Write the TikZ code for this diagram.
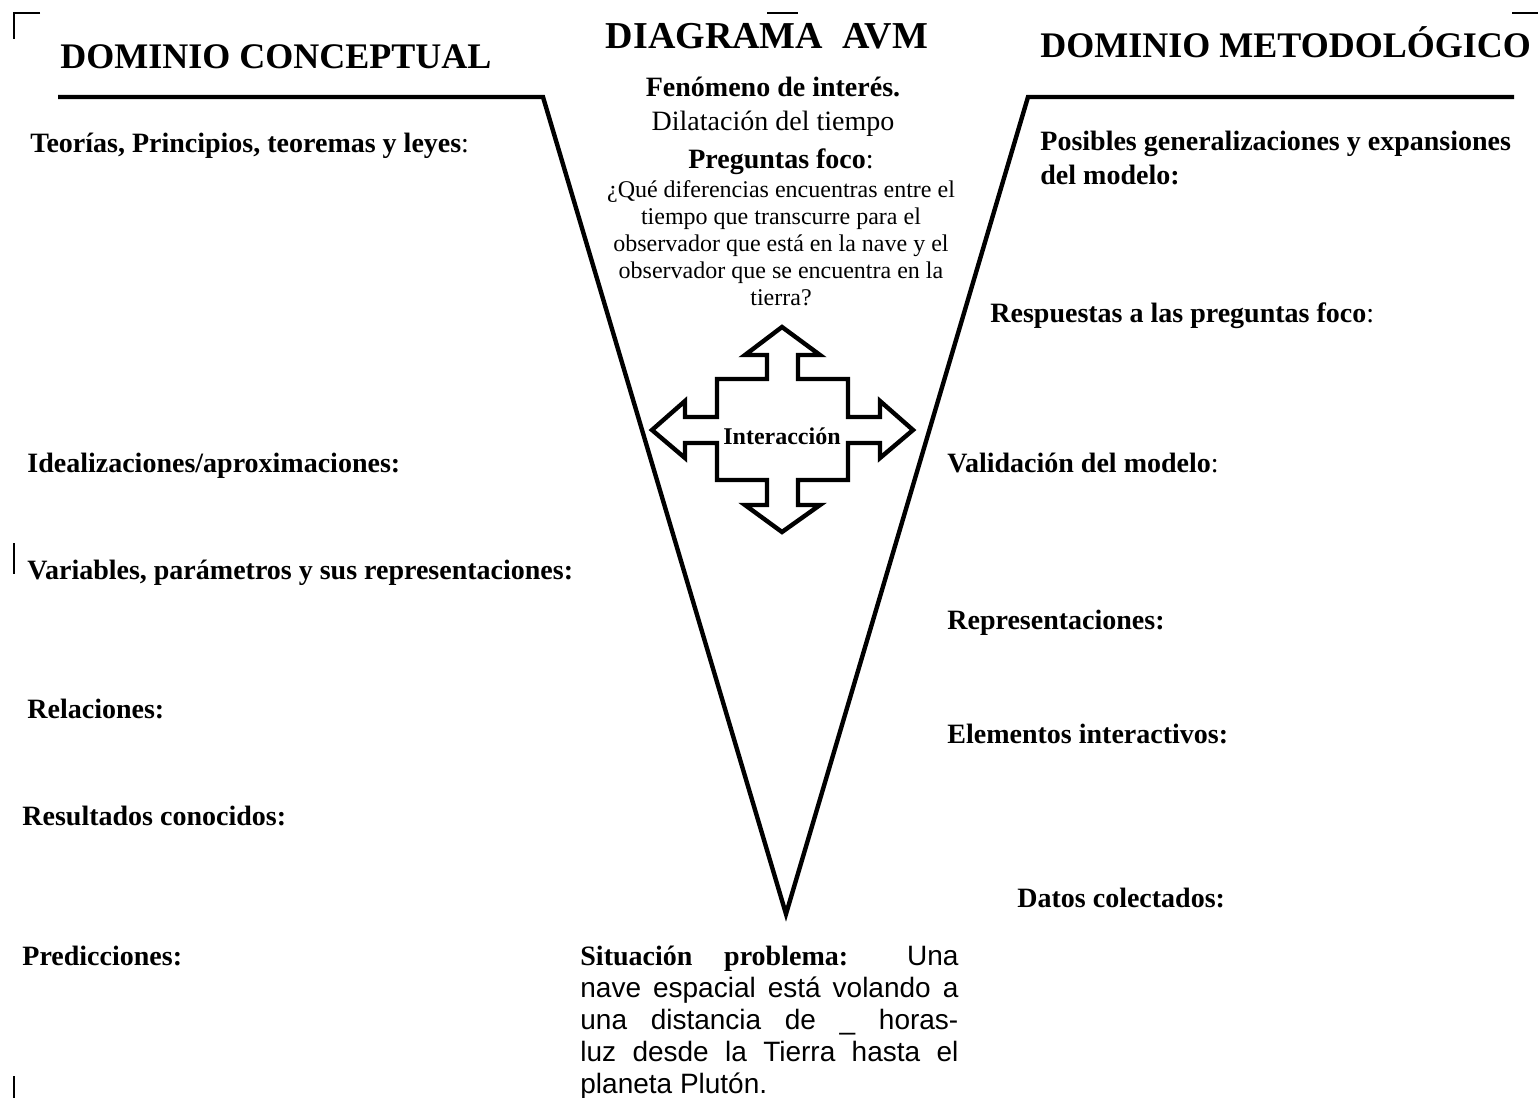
\documentclass[tikz,border=0pt]{standalone}
\usepackage{fontspec}
\setmainfont{Liberation Serif}
\newfontfamily\arialfont{Liberation Sans}
\tikzset{
  vline/.style={draw=black,line width=2.2pt,line join=miter},
  crossarrow/.style={draw=black,fill=white,line width=2.2pt,line join=miter},
  scanmark/.style={draw=black,line width=0.8pt},
  avmhead/.style={font=\fontsize{18}{21}\selectfont\bfseries,inner sep=0pt},
  avmitem/.style={font=\fontsize{14}{17}\selectfont\bfseries,inner sep=0pt,anchor=base west},
  avmcenter/.style={font=\fontsize{14}{17}\selectfont,inner sep=0pt,anchor=base},
  avmquestion/.style={font=\fontsize{12}{13.5}\selectfont,inner sep=0pt,align=center},
  avmpara/.style={font=\fontsize{14}{16}\selectfont,inner sep=0pt,text width=189pt,align=justify},
}

\begin{document}
\begin{tikzpicture}[x=0.5pt,y=-0.5pt]
  \useasboundingbox (0,0) rectangle (1538,1098);
  % marks left over from the scan
  \draw[scanmark] (40,13) -- (14,13) -- (14,39);
  \draw[scanmark] (767,13) -- (798,13);
  \draw[scanmark] (1512,13) -- (1538,13);
  \draw[scanmark] (14,543) -- (14,574);
  \draw[scanmark] (14,1076) -- (14,1098);

  % the V
  \coordinate (vleft) at (543,97);
  \coordinate (vtip) at (786,914);
  \coordinate (vright) at (1028,97);
  \draw[vline] (58,97) -- (vleft) -- (vtip) -- (vright) -- (1514,97);

  \node[avmhead,anchor=base west] (domconc) at (60,68) {DOMINIO CONCEPTUAL};
  \node[avmhead,anchor=base,font=\fontsize{19}{22}\selectfont\bfseries] (titulo) at (767,48) {DIAGRAMA\ \ AVM};
  \node[avmhead,anchor=base west] (dommet) at (1040,57) {DOMINIO METODOLÓGICO};

  % centre of the V
  \node[avmcenter,font=\fontsize{14}{17}\selectfont\bfseries] (fenomeno) at (773,96) {Fenómeno de interés.};
  \node[avmcenter] (dilatacion) at (773,130) {Dilatación del tiempo};
  \node[avmcenter] (preguntas) at (781,168) {\textbf{Preguntas foco}:};
  \node[avmquestion,anchor=north] (pregunta) at (781,180)
    {¿Qué diferencias encuentras entre el\\tiempo que transcurre para el\\observador que está en la nave y el\\observador que se encuentra en la\\tierra?};

  \draw[crossarrow] (782,327) -- (820,355) -- (798,355) -- (798,379) -- (848,379) -- (848,417)
    -- (880,417) -- (880,401) -- (913,430) -- (880,458) -- (880,443) -- (848,443)
    -- (848,480) -- (798,480) -- (798,505) -- (820,505) -- (782,532) -- (745,505)
    -- (767,505) -- (767,480) -- (717,480) -- (717,443) -- (685,443) -- (685,458)
    -- (652,430) -- (685,401) -- (685,417) -- (717,417) -- (717,379) -- (767,379)
    -- (767,355) -- (745,355) -- cycle;
  \node[font=\fontsize{12}{14}\selectfont\bfseries,anchor=base,inner sep=0pt] (interaccion) at (782,444) {Interacción};

  % conceptual side
  \node[avmitem] (teorias) at (30,152) {Teorías, Principios, teoremas y leyes{\mdseries :}};
  \node[avmitem] (idealiz) at (27,472) {Idealizaciones/aproximaciones:};
  \node[avmitem] (variables) at (27,579) {Variables, parámetros y sus representaciones:};
  \node[avmitem] (relaciones) at (27,718) {Relaciones:};
  \node[avmitem] (resultados) at (22,825) {Resultados conocidos:};
  \node[avmitem] (predicciones) at (22,965) {Predicciones:};

  % methodological side
  \node[avmitem,anchor=north west,align=left] (posibles) at (1040,131)
    {Posibles generalizaciones y expansiones\\del modelo:};
  \node[avmitem] (respuestas) at (990,322) {Respuestas a las preguntas foco{\mdseries :}};
  \node[avmitem] (validacion) at (947,472) {Validación del modelo{\mdseries :}};
  \node[avmitem] (represent) at (947,629) {Representaciones:};
  \node[avmitem] (elementos) at (947,743) {Elementos interactivos:};
  \node[avmitem] (datos) at (1017,907) {Datos colectados:};

  \node[avmpara,anchor=north west] (situacion) at (580,946)
    {\textbf{Situación problema:} {\arialfont Una\linebreak nave espacial está volando a\linebreak
     una distancia de \_ horas-\linebreak luz desde la Tierra hasta el\linebreak planeta Plutón.}};
\end{tikzpicture}
\end{document}
